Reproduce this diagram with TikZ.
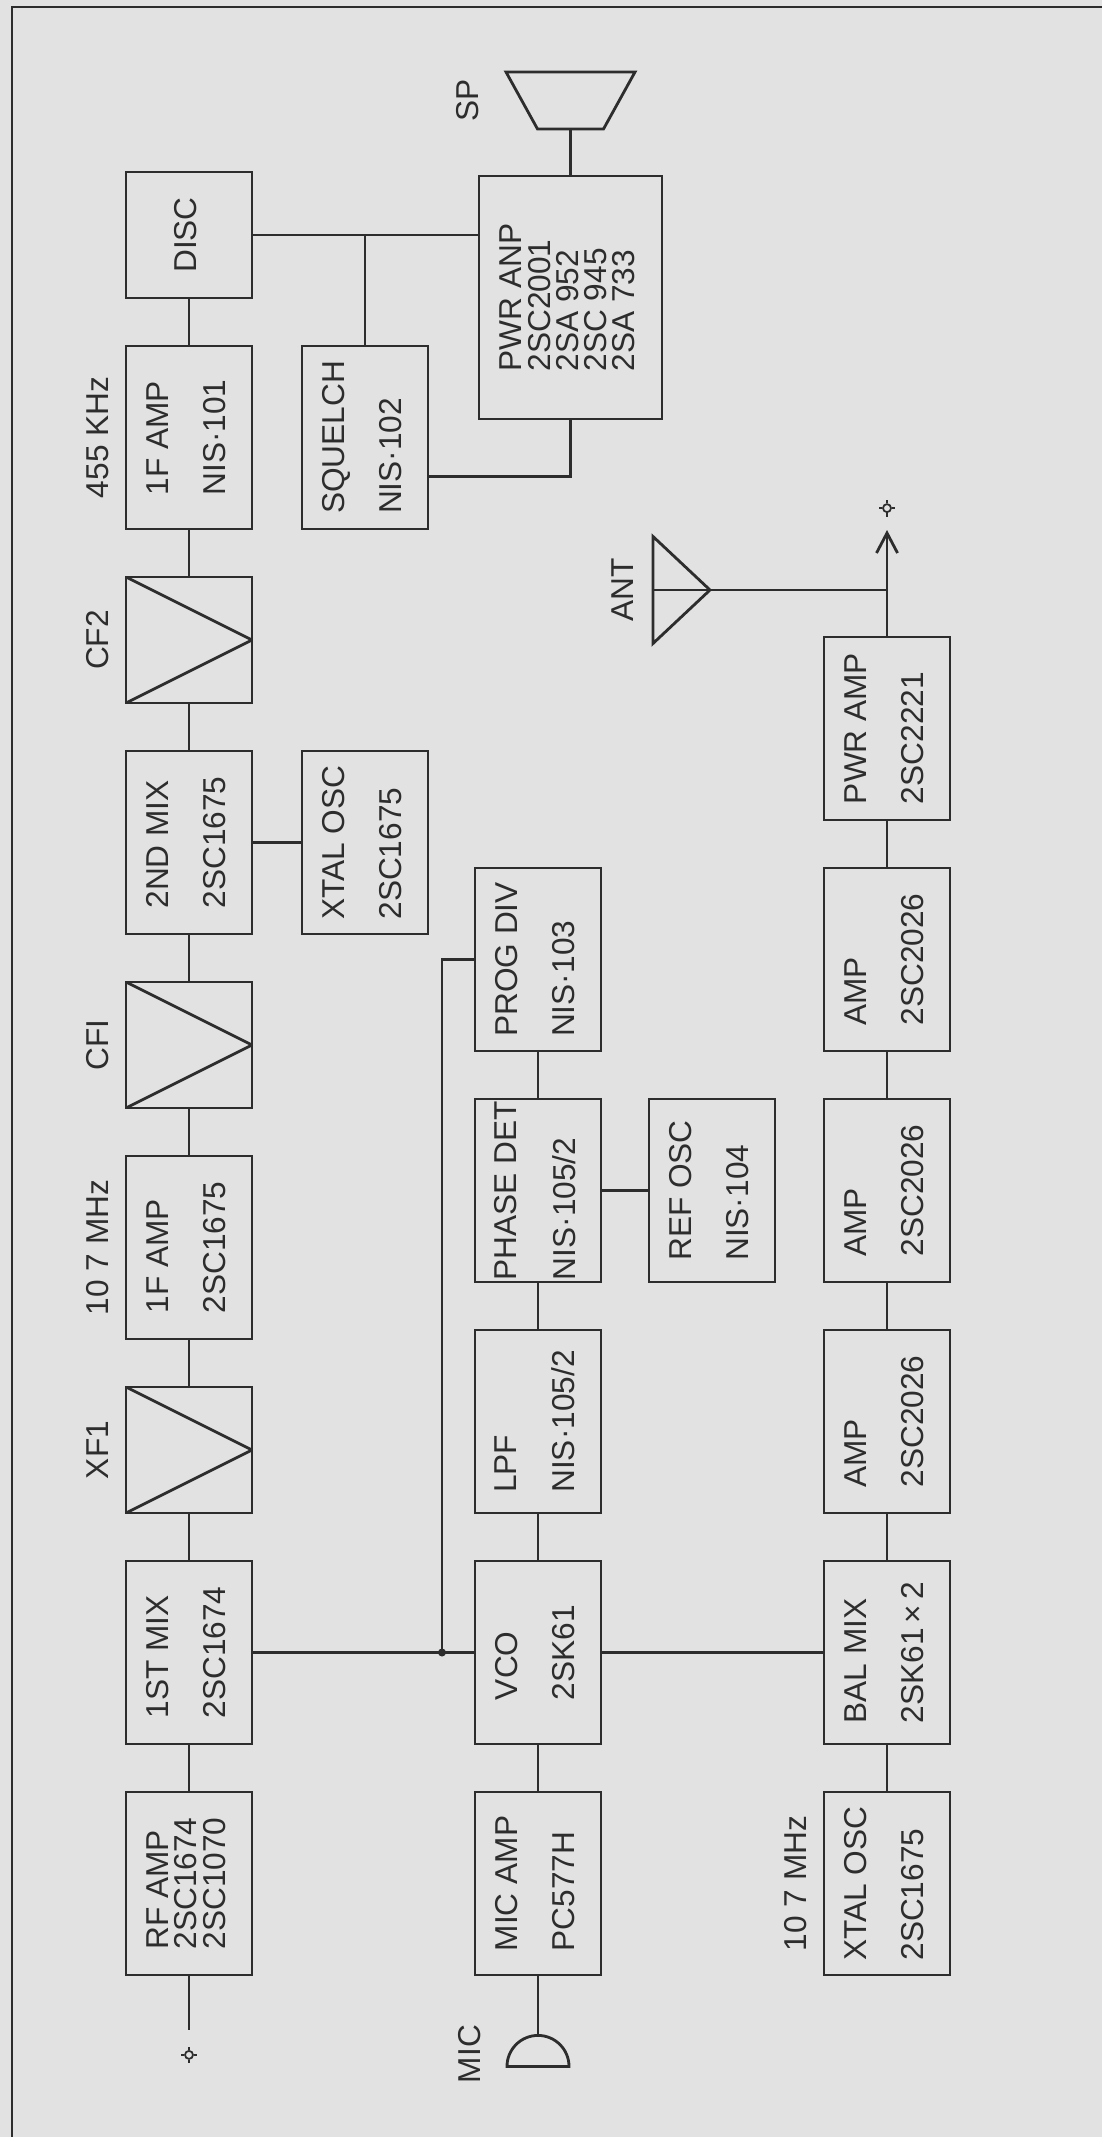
\documentclass[tikz,border=0pt]{standalone}
\usepackage{fontspec}
\setmainfont{Liberation Sans}
\usepackage{graphicx}
\usetikzlibrary{positioning,shapes.geometric,arrows.meta}
\definecolor{paper}{RGB}{226,226,226}
\definecolor{ink}{RGB}{45,45,45}
\renewcommand{\arraystretch}{0.65}
% rotated text, tight lines / two spread lines
\newcommand{\rt}[1]{\rotatebox{90}{\begin{tabular}{@{}l@{}}#1\end{tabular}}}
\newcommand{\rtt}[2]{\rt{#1\\[8.3pt]#2}}
\begin{document}
\begin{tikzpicture}[node distance=0.48cm, color=ink, line width=0.8pt, every node/.style={font=\fontsize{9}{9}\selectfont},
	box/.style={draw, minimum width=1.26cm, minimum height=1.83cm, inner sep=0pt, outer sep=0pt},
	short/.style={box, minimum height=1.26cm},
	filt/.style={short, path picture={\draw (path picture bounding box.north west) -- (path picture bounding box.east) -- (path picture bounding box.south west);}},
	big/.style={box, minimum width=1.83cm, minimum height=2.43cm},
	lbl/.style={inner sep=0.1cm},
	port/.style={circle, draw, inner sep=0pt, minimum size=0.08cm, line width=0.5pt},
	speaker/.style={minimum width=1.29cm, minimum height=0.57cm, inner sep=0pt, outer sep=0pt},
	mike/.style={draw, semicircle, minimum width=0.62cm, minimum height=0.31cm, inner sep=0pt},
	antenna/.style={draw, isosceles triangle, isosceles triangle stretches, minimum width=1.07cm, minimum height=0.57cm, inner sep=0pt, outer sep=0pt, path picture={\draw (path picture bounding box.west) -- (path picture bounding box.east);}},
	arrow/.style={-{Straight Barb[length=0.2cm, width=0.21cm]}}]

	\fill[paper] (0,0) rectangle (11.02,-21.37);
	\useasboundingbox (0,0) rectangle (11.02,-21.37);
	\draw (0.12,-21.37) -- (0.12,-0.07) -- (11.02,-0.07);

	% receiver
	\node[box] (rfamp) at (1.89,-18.835) {\rt{RF AMP\\2SC1674\\2SC1070}};
	\node[box, above=of rfamp] (mixa) {\rtt{1ST MIX}{2SC1674}};
	\node[filt, above=of mixa] (xfa) {};
	\node[box, above=of xfa] (ifa) {\rtt{1F AMP}{2SC1675}};
	\node[filt, above=of ifa] (cfa) {};
	\node[box, above=of cfa] (mixb) {\rtt{2ND MIX}{2SC1675}};
	\node[filt, above=of mixb] (cfb) {};
	\node[box, above=of cfb] (ifb) {\rtt{1F AMP}{NIS·101}};
	\node[short, above=of ifb] (disc) {\rt{DISC}};
	\node[box, right=0.5cm of ifb] (squelch) {\rtt{SQUELCH}{NIS·102}};
	\node[box, right=0.5cm of mixb] (xtala) {\rtt{XTAL OSC}{2SC1675}};
	\node[big, below right=0.04cm and 2.27cm of disc.north east] (pwranp) {\rt{PWR ANP\\2SC2001\\2SA 952\\2SC 945\\2SA 733}};
	\node[speaker, above=0.47cm of pwranp] (sp) {};

	\node[lbl, left=0cm of xfa] (xfalbl) {\rt{XF1}};
	\node[lbl, left=0cm of ifa] (ifalbl) {\rt{10 7 MHz}};
	\node[lbl, left=0cm of cfa] (cfalbl) {\rt{CFI}};
	\node[lbl, left=0cm of cfb] (cfblbl) {\rt{CF2}};
	\node[lbl, left=0cm of ifb] (ifblbl) {\rt{455 KHz}};
	\node[lbl, left=0.1cm of sp] (splbl) {\rt{SP}};

	\coordinate[below=0.55cm of rfamp] (rfend);
	\node[port, below=0.2cm of rfend] (rfport) {};

	% loop
	\node[box, right=2.23cm of rfamp] (micamp) {\rtt{MIC AMP}{PC577H}};
	\node[box, above=of micamp] (vco) {\rtt{VCO}{2SK61}};
	\node[box, above=of vco] (lpf) {\rtt{LPF}{NIS·105/2}};
	\node[box, above=of lpf] (phasedet) {\rtt{PHASE DET}{NIS·105/2}};
	\node[box, above=of phasedet] (progdiv) {\rtt{PROG DIV}{NIS·103}};
	\node[box, right=of phasedet] (refosc) {\rtt{REF OSC}{NIS·104}};
	\node[mike, below=0.59cm of micamp] (mic) {};
	\node[lbl, left=0.1cm of mic] (miclbl) {\rt{MIC}};
	\coordinate[left=0.33cm of vco.west] (vcoj);

	% transmitter
	\node[box, right=2.23cm of micamp] (xtalb) {\rtt{XTAL OSC}{2SC1675}};
	\node[box, above=of xtalb] (balmix) {\rtt{BAL MIX}{2SK61\,×\,2}};
	\node[box, above=of balmix] (ampa) {\rtt{AMP}{2SC2026}};
	\node[box, above=of ampa] (ampb) {\rtt{AMP}{2SC2026}};
	\node[box, above=of ampb] (ampc) {\rtt{AMP}{2SC2026}};
	\node[box, above=of ampc] (pwramp) {\rtt{PWR AMP}{2SC2221}};
	\node[lbl, left=0cm of xtalb] (xtalblbl) {\rt{10 7 MHz}};
	\coordinate[above=0.47cm of pwramp] (antj);
	\coordinate[above=1.07cm of pwramp] (txend);
	\node[port, above=0.17cm of txend] (txport) {};
	\node[antenna, left=1.77cm of antj] (ant) {};
	\node[lbl, left=0.02cm of ant] (antlbl) {\rt{ANT}};

	\draw (sp.north west) -- (sp.north east) -- ([xshift=-0.315cm]sp.south east) -- ([xshift=0.315cm]sp.south west) -- cycle;

	\draw (rfamp) -- (rfend);
	\draw (rfamp) -- (mixa);
	\draw (mixa) -- (xfa);
	\draw (xfa) -- (ifa);
	\draw (ifa) -- (cfa);
	\draw (cfa) -- (mixb);
	\draw (mixb) -- (cfb);
	\draw (cfb) -- (ifb);
	\draw (ifb) -- (disc);
	\draw (mixb) -- (xtala);
	\draw (disc) -- (disc -| pwranp.west);
	\draw (squelch) -- (squelch |- disc);
	\draw ([yshift=-0.39cm]squelch.east) -| (pwranp.south);
	\draw (pwranp) -- (sp);

	\draw (mic) -- (micamp);
	\draw (micamp) -- (vco);
	\draw (vco) -- (lpf);
	\draw (lpf) -- (phasedet);
	\draw (phasedet) -- (progdiv);
	\draw (phasedet) -- (refosc);
	\draw (mixa) -- (vco);
	\draw (progdiv.west) -| (vcoj);
	\fill (vcoj) circle (0.04);

	\draw (vco) -- (balmix);
	\draw (xtalb) -- (balmix);
	\draw (balmix) -- (ampa);
	\draw (ampa) -- (ampb);
	\draw (ampb) -- (ampc);
	\draw (ampc) -- (pwramp);
	\draw[arrow] (pwramp) -- (txend);
	\draw (ant.apex) -- (antj);

	\foreach \p in {rfport, txport}
		\foreach \a in {0,90,180,270}
			\draw[line width=0.5pt] (\p.\a) -- ++(\a:0.035);

\end{tikzpicture}
\end{document}
